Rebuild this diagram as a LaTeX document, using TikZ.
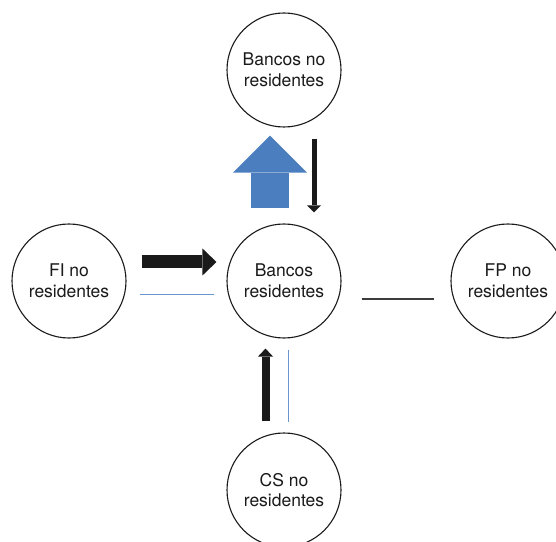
\documentclass[tikz,border=0pt]{standalone}
\usepackage{fontspec}
\setmainfont{TeX Gyre Heros}
\usepackage{xcolor}
\usetikzlibrary{arrows.meta,positioning,calc}
\definecolor{ink}{HTML}{1A1A1A}
\definecolor{flowblue}{HTML}{4A7EBF}
\definecolor{lineblue}{HTML}{6A94CC}
\tikzset{
  sector/.style={draw=ink,fill=white,circle,line width=1.1pt,
                 minimum size=114pt,inner sep=0pt,align=center,
                 font=\fontsize{17.5}{20.5}\selectfont,text=ink},
  bigflow/.style={flowblue,line width=38pt,
                  -{Triangle[length=37pt,width=74pt,line width=0pt]}},
  thickflow/.style={ink,line width=13pt,
                    -{Triangle[length=14pt,width=27pt,line width=0pt]}},
  thinflow/.style={ink,line width=5pt,
                   -{Triangle[length=7pt,width=14pt,line width=0pt]}},
  midflow/.style={ink,line width=8pt,
                  -{Triangle[length=8pt,width=15pt,line width=0pt]}},
  bluelink/.style={lineblue,line width=1pt},
  inklink/.style={ink!85,line width=1.1pt}
}

\begin{document}
\begin{tikzpicture}[x=1pt,y=1pt]
  \useasboundingbox (0,0) rectangle (556,541);
  % sectores
  \node[sector] (bnr)  at (284,471) {Bancos no\\residentes};
  \node[sector] (br)   at (284,260) {Bancos\\residentes};
  \node[sector] (finr) at (69,260)  {FI no\\residentes};
  \node[sector] (fpnr) at (508,260) {FP no\\residentes};
  \node[sector] (csnr) at (284,51)  {CS no\\residentes};
  % flujos con bancos no residentes
  \draw[bigflow] ($(br.north)+(-14,15)$) -- ($(bnr.south)+(-14,-8)$);
  \draw[thinflow] ($(bnr.south)+(30,-11)$) -- ($(br.north)+(30,11)$);
  % flujos con FI no residentes
  \draw[thickflow] ($(finr.east)+(15,19)$) -- ($(br.west)+(-10,19)$);
  \draw[bluelink] ($(finr.east)+(13,-14)$) -- ($(br.west)+(-12,-14)$);
  % flujos con CS no residentes
  \draw[midflow] ($(csnr.north)+(-18.5,11)$) -- ($(br.south)+(-18.5,-10)$);
  \draw[bluelink] ($(br.south)+(4,-11)$) -- ($(csnr.north)+(4,10)$);
  % flujos con FP no residentes
  \draw[inklink] ($(br.east)+(20,-18)$) -- ($(fpnr.west)+(-16,-18)$);
\end{tikzpicture}
\end{document}
